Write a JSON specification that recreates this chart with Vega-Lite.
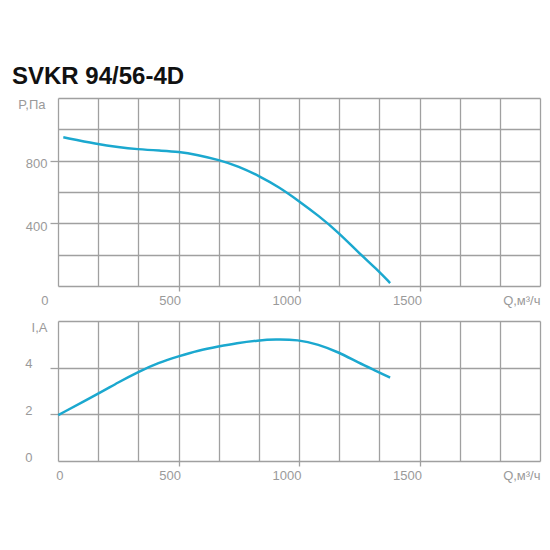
{
  "$schema": "https://vega.github.io/schema/vega-lite/v6.json",
  "padding": {"left": 12, "top": 65, "right": 10, "bottom": 10},
  "background": "white",
  "title": {
    "text": "SVKR 94/56-4D",
    "anchor": "start",
    "frame": "group",
    "dx": -46,
    "offset": 9,
    "font": "Liberation Sans",
    "fontSize": 24,
    "fontWeight": "bold",
    "color": "#111111"
  },
  "config": {
    "font": "Liberation Sans",
    "view": {"stroke": null},
    "axis": {
      "domain": false,
      "grid": true,
      "gridColor": "#a0a0a0",
      "gridWidth": 1.3,
      "gridOpacity": 1,
      "labelColor": "#9a9a9a",
      "labelFontSize": 13,
      "labelFont": "Liberation Sans",
      "tickColor": "#a0a0a0",
      "tickWidth": 1.3,
      "titleColor": "#9a9a9a",
      "titleFontSize": 13,
      "titleFontWeight": "normal",
      "titleFont": "Liberation Sans"
    }
  },
  "datasets": {
    "pressure": [
      {"Q": 22, "P": 949},
      {"Q": 163, "P": 906},
      {"Q": 250, "P": 886},
      {"Q": 329, "P": 873},
      {"Q": 423, "P": 864},
      {"Q": 500, "P": 858},
      {"Q": 580, "P": 837},
      {"Q": 667, "P": 805},
      {"Q": 750, "P": 764},
      {"Q": 833, "P": 703},
      {"Q": 917, "P": 632},
      {"Q": 1000, "P": 542},
      {"Q": 1080, "P": 450},
      {"Q": 1163, "P": 343},
      {"Q": 1246, "P": 215},
      {"Q": 1329, "P": 98},
      {"Q": 1378, "P": 19}
    ],
    "current": [
      {"Q": 1, "I": 1.97},
      {"Q": 167, "I": 2.88},
      {"Q": 250, "I": 3.37},
      {"Q": 333, "I": 3.82},
      {"Q": 417, "I": 4.21},
      {"Q": 500, "I": 4.49},
      {"Q": 583, "I": 4.74},
      {"Q": 667, "I": 4.91},
      {"Q": 740, "I": 5.05},
      {"Q": 831, "I": 5.17},
      {"Q": 900, "I": 5.22},
      {"Q": 997, "I": 5.2},
      {"Q": 1080, "I": 5.0},
      {"Q": 1163, "I": 4.67},
      {"Q": 1246, "I": 4.22},
      {"Q": 1329, "I": 3.82},
      {"Q": 1378, "I": 3.57}
    ]
  },
  "bounds": "flush",
  "spacing": 35,
  "vconcat": [
    {
      "width": 482,
      "height": 188,
      "data": {"name": "pressure"},
      "mark": {"type": "line", "color": "#1ba8cf", "strokeWidth": 2.5, "interpolate": "basis"},
      "encoding": {
        "x": {
          "field": "Q",
          "type": "quantitative",
          "scale": {"domain": [0, 2000], "nice": false},
          "axis": {
            "values": [0, 166.6667, 333.3333, 500, 666.6667, 833.3333, 1000, 1166.6667, 1333.3333, 1500, 1666.6667, 1833.3333, 2000],
            "format": "d",
            "labelExpr": "datum.value == 0 || datum.value == 500 || datum.value == 1000 || datum.value == 1500 ? datum.label : ''",
            "labelAlign": "right",
            "labelOffset": {"condition": {"test": "datum.value == 0", "value": -10}, "value": 2},
            "labelPadding": 3,
            "labelFlush": false,
            "labelOverlap": false,
            "tickSize": 5,
            "tickOpacity": {"condition": {"test": "datum.value == 500 || datum.value == 1000 || datum.value == 1500", "value": 1}, "value": 0},
            "title": "Q,м³/ч",
            "titleAnchor": "end",
            "titleAlign": "right",
            "titleX": 482,
            "titleY": 14,
            "titleBaseline": "middle"
          }
        },
        "y": {
          "field": "P",
          "type": "quantitative",
          "scale": {"domain": [0, 1200], "nice": false},
          "axis": {
            "values": [0, 200, 400, 600, 800, 1000, 1200],
            "labelExpr": "datum.value == 400 || datum.value == 800 ? datum.label : ''",
            "labelOffset": 3,
            "labelPadding": 3,
            "tickSize": 8,
            "tickOpacity": {"condition": {"test": "datum.value == 400 || datum.value == 800", "value": 1}, "value": 0},
            "title": "P,Па",
            "titleAngle": 0,
            "titleAlign": "right",
            "titleBaseline": "middle",
            "titleX": -13,
            "titleY": 6
          }
        }
      }
    },
    {
      "width": 482,
      "height": 140,
      "data": {"name": "current"},
      "mark": {"type": "line", "color": "#1ba8cf", "strokeWidth": 2.5, "interpolate": "basis"},
      "encoding": {
        "x": {
          "field": "Q",
          "type": "quantitative",
          "scale": {"domain": [0, 2000], "nice": false},
          "axis": {
            "values": [0, 166.6667, 333.3333, 500, 666.6667, 833.3333, 1000, 1166.6667, 1333.3333, 1500, 1666.6667, 1833.3333, 2000],
            "format": "d",
            "labelExpr": "datum.value == 0 || datum.value == 500 || datum.value == 1000 || datum.value == 1500 ? datum.label : ''",
            "labelAlign": "right",
            "labelOffset": {"condition": {"test": "datum.value == 0", "value": 5}, "value": 2},
            "labelPadding": 3,
            "labelFlush": false,
            "labelOverlap": false,
            "tickSize": 5,
            "tickOpacity": {"condition": {"test": "datum.value == 500 || datum.value == 1000 || datum.value == 1500", "value": 1}, "value": 0},
            "title": "Q,м³/ч",
            "titleAnchor": "end",
            "titleAlign": "right",
            "titleX": 482,
            "titleY": 14,
            "titleBaseline": "middle"
          }
        },
        "y": {
          "field": "I",
          "type": "quantitative",
          "scale": {"domain": [0, 6], "nice": false},
          "axis": {
            "values": [0, 2, 4, 6],
            "labelExpr": "datum.value == 6 ? '' : datum.label",
            "labelOffset": -4,
            "labelPadding": 18,
            "tickSize": 8,
            "tickOpacity": {"condition": {"test": "datum.value == 2 || datum.value == 4", "value": 1}, "value": 0},
            "title": "I,A",
            "titleAngle": 0,
            "titleAlign": "right",
            "titleBaseline": "middle",
            "titleX": -11,
            "titleY": 6
          }
        }
      }
    }
  ]
}
